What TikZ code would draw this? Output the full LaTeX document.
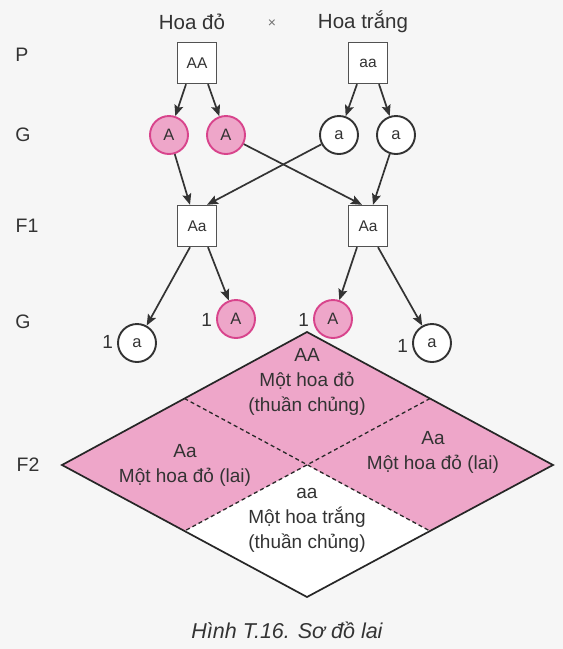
\documentclass[tikz,border=0pt]{standalone}
\usepackage{fontspec}
\setmainfont{Liberation Sans}
\usetikzlibrary{arrows.meta}
\definecolor{pinkf}{HTML}{EEA6C9}
\definecolor{pinkb}{HTML}{D8448C}
\definecolor{ink}{HTML}{333333}
\definecolor{bgc}{HTML}{F6F6F6}
\tikzset{
  lbl/.style={font=\fontsize{19.5}{23}\selectfont, text=ink, inner sep=0pt},
  gbox/.style={draw=ink!85, line width=1.4pt, fill=white, minimum width=39pt, minimum height=41pt, inner sep=0pt, font=\fontsize{15.5}{18}\selectfont, text=ink},
  gred/.style={circle, draw=pinkb, fill=pinkf, line width=1.9pt, minimum size=38pt, inner sep=0pt, font=\fontsize{16.5}{18}\selectfont, text=ink},
  gwhite/.style={circle, draw=ink, fill=white, line width=1.9pt, minimum size=38pt, inner sep=0pt, font=\fontsize{16.5}{18}\selectfont, text=ink},
  arr/.style={draw=ink, line width=1.7pt, -{Stealth[length=11pt,width=9pt,inset=2pt]}},
  one/.style={font=\fontsize{19}{23}\selectfont, text=ink, inner sep=0pt, anchor=east},
  dtext/.style={font=\fontsize{19}{25}\selectfont, text=ink, align=center, inner sep=0pt},
}
\begin{document}
\begin{tikzpicture}[x=1pt,y=-1pt]
\fill[bgc] (0,0) rectangle (563,649);
\useasboundingbox (0,0) rectangle (563,649);

% titles
\node[lbl, font=\fontsize{20.5}{24}\selectfont] (t1) at (192,22) {Hoa đỏ};
\node[lbl, font=\fontsize{14}{15}\selectfont, text=ink!70] (tx) at (272,24) {×};
\node[lbl, font=\fontsize{20.5}{24}\selectfont] (t2) at (363,22) {Hoa trắng};

% row labels
\node[lbl] (lP) at (22,55) {P};
\node[lbl] (lG1) at (23,135) {G};
\node[lbl] (lF1) at (27,226) {F1};
\node[lbl] (lG2) at (23,322) {G};
\node[lbl] (lF2) at (28,465) {F2};

% P
\node[gbox] (AA) at (197,63) {AA};
\node[gbox] (aa) at (368,63) {aa};

% G
\node[gred] (A1) at (169,135) {A};
\node[gred] (A2) at (226,135) {A};
\node[gwhite] (a1) at (339,135) {a};
\node[gwhite] (a2) at (396,135) {a};

% F1
\node[gbox] (F1L) at (197,226) {Aa};
\node[gbox] (F1R) at (368,226) {Aa};

% G2
\node[gwhite] (g1) at (137,343) {a};
\node[gred] (g2) at (236,319) {A};
\node[gred] (g3) at (333,319) {A};
\node[gwhite] (g4) at (432,343) {a};
\node[one] (n1) at ([xshift=-4pt,yshift=1pt]g1.west) {1};
\node[one] (n2) at ([xshift=-4pt,yshift=-1pt]g2.west) {1};
\node[one] (n3) at ([xshift=-4pt,yshift=-1pt]g3.west) {1};
\node[one] (n4) at ([xshift=-4pt,yshift=-3pt]g4.west) {1};

% arrows P -> G
\draw[arr] ([xshift=-11pt]AA.south) -- (A1);
\draw[arr] ([xshift=11pt]AA.south) -- (A2);
\draw[arr] ([xshift=-11pt]aa.south) -- (a1);
\draw[arr] ([xshift=11pt]aa.south) -- (a2);

% arrows G -> F1
\draw[arr] (A1) -- ([xshift=-7pt]F1L.north);
\draw[arr] (a1) -- ([xshift=10pt]F1L.north);
\draw[arr] (A2) -- ([xshift=-6pt]F1R.north);
\draw[arr] (a2) -- ([xshift=5pt]F1R.north);

% arrows F1 -> G2
\draw[arr] ([xshift=-7pt]F1L.south) -- (g1);
\draw[arr] ([xshift=11pt]F1L.south) -- (g2);
\draw[arr] ([xshift=-11pt]F1R.south) -- (g3);
\draw[arr] ([xshift=10pt]F1R.south) -- (g4);

% F2 diamond
\coordinate (T) at (307,332);
\coordinate (L) at (62,465);
\coordinate (R) at (553,465);
\coordinate (B) at (307,597);
\coordinate (C) at (307,465);
\coordinate (TL) at (184.5,398.5);
\coordinate (TR) at (430,398.5);
\coordinate (BL) at (184.5,531);
\coordinate (BR) at (430,531);
\fill[white] (T) -- (R) -- (B) -- (L) -- cycle;
\fill[pinkf] (T) -- (R) -- (BR) -- (C) -- (BL) -- (L) -- cycle;
\draw[ink!80!black, line width=1.3pt, dash pattern=on 4pt off 3pt] (TL) -- (BR);
\draw[ink!80!black, line width=1.3pt, dash pattern=on 4pt off 3pt] (TR) -- (BL);
\draw[black!85, line width=1.7pt, line join=miter] (T) -- (R) -- (B) -- (L) -- cycle;

\node[dtext] (dT) at (307,382) {AA\\Một hoa đỏ\\(thuần chủng)};
\node[dtext] (dL) at (185,465) {Aa\\Một hoa đỏ (lai)};
\node[dtext] (dR) at (433,452) {Aa\\Một hoa đỏ (lai)};
\node[dtext] (dB) at (307,520) {aa\\Một hoa trắng\\(thuần chủng)};

% caption
\node[lbl, font=\fontsize{21.5}{24}\selectfont\itshape] (cap) at (287,630) {Hình T.16. Sơ đồ lai};
\end{tikzpicture}
\end{document}
